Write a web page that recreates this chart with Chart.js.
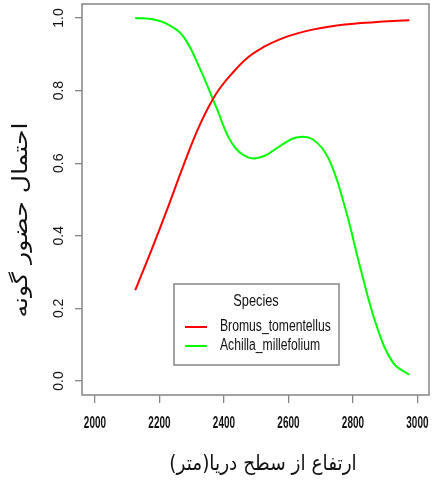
<!DOCTYPE html>
<html>
<head>
<meta charset="utf-8">
<script src="https://cdn.jsdelivr.net/npm/chart.js@4.4.1/dist/chart.umd.min.js"></script>
<style>
  body { margin: 0; background: #fff; }
  canvas { display: block; }
</style>
</head>
<body>
<canvas id="chartLine" width="433" height="487"></canvas>
<script>
// elevation (m) and fitted presence probability of each species
const elevation = [2125, 2175, 2225, 2275, 2325, 2375, 2425, 2475, 2525,
  2575, 2625, 2675, 2725, 2775, 2825, 2875, 2925, 2975];
const bromus = [0.25, 0.36, 0.475, 0.595, 0.705, 0.79, 0.847, 0.892, 0.921,
  0.942, 0.957, 0.968, 0.976, 0.982, 0.986, 0.989, 0.992, 0.994];
const achillea = [1.0, 0.997, 0.983, 0.948, 0.862, 0.757, 0.655, 0.616, 0.62,
  0.648, 0.671, 0.666, 0.612, 0.48, 0.305, 0.148, 0.05, 0.017];

const speciesNames = ["Bromus_tomentellus", "Achilla_millefolium"];
const speciesColors = ["#ff0000", "#00ff00"];

const xTicks = [2000, 2200, 2400, 2600, 2800, 3000];
const xTickLabels = ["2000", "2200", "2400", "2600", "2800", "3000"];
const yTicks = [0, 0.2, 0.4, 0.6, 0.8, 1.0];
const yTickLabels = ["0.0", "0.2", "0.4", "0.6", "0.8", "1.0"];

const xTitle = "ارتفاع از سطح دریا(متر)";
const yTitle = "احتمال حضور گونه";
const legendTitle = "Species";

const GRAY = "#858585";
const INK = "#111";
const SANS = '"Liberation Sans", Arial, sans-serif';

// squeezed text, like the narrow labels of the plot
function drawText(ctx, text, x, y, font, sx, angle) {
  ctx.save();
  ctx.translate(x, y);
  if (angle) ctx.rotate(angle);
  ctx.scale(sx, 1);
  ctx.font = font;
  ctx.fillText(text, 0, 0);
  ctx.restore();
}

const framePlugin = {
  id: "frame",
  afterDraw(chart) {
    const ctx = chart.ctx;
    const a = chart.chartArea;
    const xs = chart.scales.x;
    const ys = chart.scales.y;

    ctx.save();
    ctx.strokeStyle = GRAY;
    ctx.lineWidth = 1.5;
    ctx.strokeRect(a.left, a.top, a.right - a.left, a.bottom - a.top);

    ctx.fillStyle = INK;
    ctx.textAlign = "center";
    ctx.textBaseline = "middle";

    // tick labels
    yTicks.forEach((v, i) => {
      drawText(ctx, yTickLabels[i], 59, ys.getPixelForValue(v),
        "14px " + SANS, 1, -Math.PI / 2);
    });
    xTicks.forEach((v, i) => {
      drawText(ctx, xTickLabels[i], xs.getPixelForValue(v), 424,
        "bold 16px " + SANS, 0.62, 0);
    });

    // axis titles (Persian, right to left)
    ctx.direction = "rtl";
    drawText(ctx, xTitle, 263, 465, '21px "DejaVu Sans", sans-serif', 0.88, 0);
    drawText(ctx, yTitle, 22, 220, '21px "DejaVu Sans", sans-serif', 1.2, -Math.PI / 2);
    ctx.direction = "ltr";

    // legend box
    ctx.strokeStyle = GRAY;
    ctx.lineWidth = 1.5;
    ctx.strokeRect(174, 284, 165, 81);
    drawText(ctx, legendTitle, 256, 302, "16px " + SANS, 0.8, 0);
    ctx.textAlign = "left";
    chart.data.datasets.forEach((ds, i) => {
      const y = 327 + i * 19;
      ctx.strokeStyle = ds.borderColor;
      ctx.lineWidth = 2;
      ctx.beginPath();
      ctx.moveTo(185, y);
      ctx.lineTo(207, y);
      ctx.stroke();
      drawText(ctx, ds.label, 220, y, "16px " + SANS, 0.76, 0);
    });
    ctx.restore();
  },
};

const data = {
  datasets: speciesNames.map((name, k) => ({
    label: name,
    data: elevation.map((x, i) => ({ x: x, y: (k === 0 ? bromus : achillea)[i] })),
    borderColor: speciesColors[k],
    borderWidth: 2,
    tension: 0.4,
    pointRadius: 0,
    fill: false,
  })),
};

const config = {
  type: "line",
  data: data,
  options: {
    responsive: false,
    animation: false,
    layout: { padding: { top: 4, right: 4 } },
    plugins: { legend: { display: false }, tooltip: { enabled: false } },
    scales: {
      x: {
        type: "linear",
        min: 1960,
        max: 3036,
        afterBuildTicks: (s) => { s.ticks = xTicks.map((v) => ({ value: v })); },
        afterFit: (s) => { s.height = 92; },
        ticks: { display: false },
        border: { display: false },
        grid: { drawOnChartArea: false, drawTicks: true, tickLength: 8, color: GRAY, lineWidth: 1.3 },
      },
      y: {
        min: -0.0386,
        max: 1.0386,
        afterBuildTicks: (s) => { s.ticks = yTicks.map((v) => ({ value: v })); },
        afterFit: (s) => { s.width = 82; },
        ticks: { display: false },
        border: { display: false },
        grid: { drawOnChartArea: false, drawTicks: true, tickLength: 7, color: GRAY, lineWidth: 1.3 },
      },
    },
  },
  plugins: [framePlugin],
};

new Chart(document.getElementById("chartLine").getContext("2d"), config);
</script>
</body>
</html>
